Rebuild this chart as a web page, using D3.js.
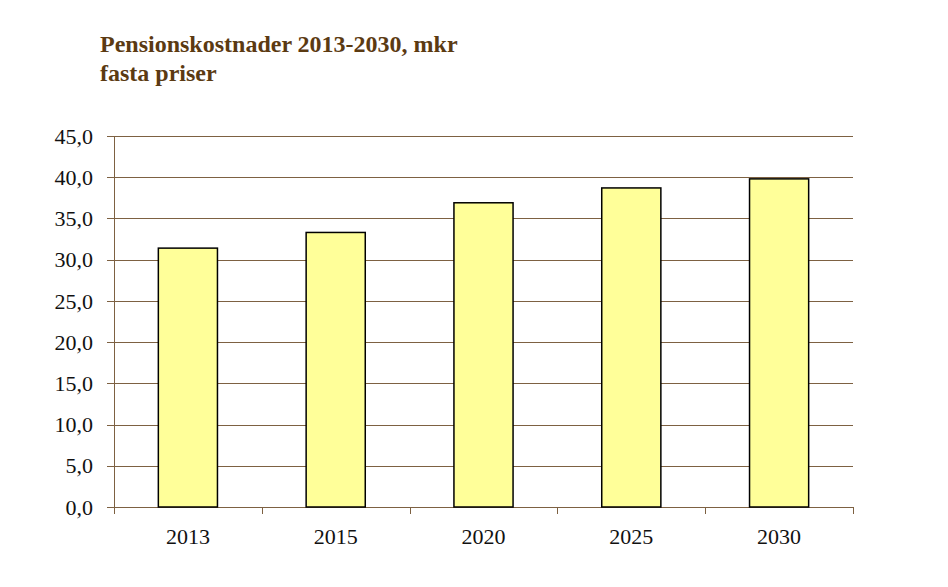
<!DOCTYPE html>
<html><head><meta charset="utf-8">
<script src="https://cdn.jsdelivr.net/npm/d3@7"></script>
<style>body{margin:0;background:#fff}svg{display:block}</style>
</head><body>
<script>
const categories = ["2013","2015","2020","2025","2030"];
const values = [31.4, 33.3, 36.9, 38.7, 39.8];
const yTicks = [0,5,10,15,20,25,30,35,40,45];
const titleLines = ["Pensionskostnader 2013-2030, mkr","fasta priser"];

const W=948,H=587;
const m={left:114,right:W-853,top:136,bottom:H-507};
const svg=d3.select("body").append("svg").attr("width",W).attr("height",H);
const xb=d3.scaleBand().domain(categories).range([m.left,W-m.right]);
const y=d3.scaleLinear().domain([0,45]).range([H-m.bottom,m.top]);
const grid="#7d6142";
const font="'Liberation Serif','Times New Roman',serif";

svg.append("g").selectAll("text").data(titleLines).join("text")
  .attr("x",100).attr("y",(d,i)=>52+i*29)
  .attr("font-family",font).attr("font-weight","bold").attr("font-size",24)
  .attr("fill","#5b3a12").text(d=>d);

// gridlines
svg.append("g").selectAll("line").data(yTicks).join("line")
  .attr("x1",m.left-7).attr("x2",W-m.right)
  .attr("y1",d=>Math.round(y(d))+0.5).attr("y2",d=>Math.round(y(d))+0.5)
  .attr("stroke",grid).attr("stroke-width",1);
// y axis line
svg.append("line").attr("x1",m.left+0.5).attr("x2",m.left+0.5).attr("y1",y(45)).attr("y2",y(0))
  .attr("stroke",grid);
// x ticks at boundaries
const bounds=categories.map(c=>xb(c)).concat([W-m.right]);
svg.append("g").selectAll("line").data(bounds).join("line")
  .attr("x1",d=>Math.round(d)+0.5).attr("x2",d=>Math.round(d)+0.5)
  .attr("y1",y(0)).attr("y2",y(0)+7).attr("stroke",grid);

// y labels
svg.append("g").selectAll("text").data(yTicks).join("text")
  .attr("x",93).attr("y",d=>y(d)).attr("dy","0.35em").attr("text-anchor","end")
  .attr("font-family",font).attr("font-size",22).attr("fill","#111")
  .text(d=>d.toFixed(1).replace(".",","));

// bars
svg.append("g").selectAll("rect").data(values).join("rect")
  .attr("x",(d,i)=>xb(categories[i])+xb.bandwidth()*0.3)
  .attr("width",xb.bandwidth()*0.4)
  .attr("y",d=>y(d)).attr("height",d=>y(0)-y(d))
  .attr("fill","#ffff99").attr("stroke","#000").attr("stroke-width",1.5);

// x labels
svg.append("g").selectAll("text").data(categories).join("text")
  .attr("x",d=>xb(d)+xb.bandwidth()/2).attr("y",544).attr("text-anchor","middle")
  .attr("font-family",font).attr("font-size",22).attr("fill","#111").text(d=>d);
</script>
</body></html>
